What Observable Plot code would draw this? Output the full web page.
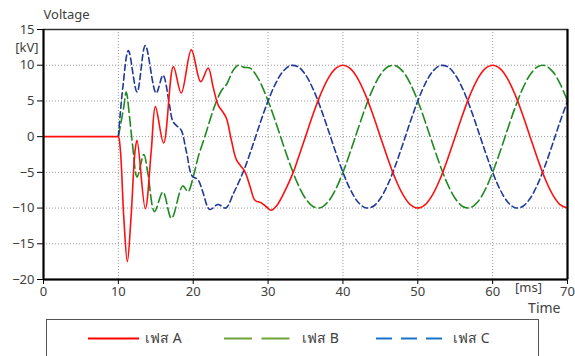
<!DOCTYPE html>
<html>
<head>
<meta charset="utf-8">
<script src="https://cdn.jsdelivr.net/npm/d3@7"></script>
<script src="https://cdn.jsdelivr.net/npm/@observablehq/plot@0.6"></script>
<style>
  html, body { margin: 0; padding: 0; background: #fff; }
  #wrap { position: relative; width: 575px; height: 356px; overflow: hidden; font-family: "Noto Sans", "DejaVu Sans", sans-serif; }
  #legend { position: absolute; left: 46px; top: 319px; width: 493px; height: 50px; border: 1px solid #555; box-sizing: border-box; background: #fff; }
</style>
</head>
<body>
<div id="wrap"><div id="chart"></div><div id="legend"></div></div>
<script>
// ---- data ----
const seriesNames = ["เฟส A", "เฟส B", "เฟส C"];
const xTicks = [0, 10, 20, 30, 40, 50, 60, 70];
const yTicks = [-20, -15, -10, -5, 0, 5, 10, 15];

const tA = [0, 5, 9.8, 10, 10.27, 10.72, 11.2, 11.7, 12.24, 12.5, 13.6, 14.4, 14.95, 16.05, 17.35, 18.4, 19.75, 21.0, 22.0, 22.67, 23.34, 24.0, 24.46, 25.1, 25.8, 26.9, 27.6, 28.25, 29.15, 29.8, 30.4, 31.2, 32.3, 33.4,
  34, 35, 36, 37, 38, 39, 40, 41, 42, 43, 44, 45, 46, 47, 48, 49, 50, 51, 52, 53, 54, 55, 56, 57, 58, 59, 60, 61, 62, 63, 64, 65, 66, 67, 68, 69, 70];
const vA = [0, 0, 0, 0, -1.9, -11.2, -17.5, -11.2, -1.9, -0.5, -10.1, -1.9, 4.2, -0.9, 9.8, 6.1, 12.15, 7.7, 9.6, 6.9, 4.4, 3.4, 2.5, -0.5, -3.3, -4.9, -7.0, -8.9, -9.3, -9.85, -10.3, -9.6, -7.5, -4.9,
  -3.09, 0, 3.09, 5.88, 8.09, 9.51, 10, 9.51, 8.09, 5.88, 3.09, 0, -3.09, -5.88, -8.09, -9.51, -10, -9.51, -8.09, -5.88, -3.09, 0, 3.09, 5.88, 8.09, 9.51, 10, 9.51, 8.09, 5.88, 3.09, 0, -3.09, -5.88, -8.09, -9.51, -10];

const tB = [10, 10.7, 11.05, 11.5, 11.9, 12.5, 13.4, 13.95, 14.83, 15.96, 17.1, 18.6, 19.3, 20.0, 20.65, 21.55, 22.9, 23.8, 24.45, 25.35, 26.0, 26.8, 27.6, 28.7, 30,
  31, 32, 33, 34, 35, 36, 37, 38, 39, 40, 41, 42, 43, 44, 45, 46, 47, 48, 49, 50, 51, 52, 53, 54, 55, 56, 57, 58, 59, 60, 61, 62, 63, 64, 65, 66, 67, 68, 69, 70];
const vB = [0, 4.0, 6.25, 2.7, -1.2, -5.65, -2.5, -5.2, -10.5, -7.75, -11.45, -6.9, -7.7, -5.65, -2.9, 0, 4.4, 6.5, 7.3, 9.3, 10.0, 9.7, 9.6, 8.1, 5.0,
  2.08, -1.05, -4.07, -6.69, -8.66, -9.78, -9.95, -9.14, -7.43, -5.0, -2.08, 1.05, 4.07, 6.69, 8.66, 9.78, 9.95, 9.14, 7.43, 5.0,
  2.08, -1.05, -4.07, -6.69, -8.66, -9.78, -9.95, -9.14, -7.43, -5.0, -2.08, 1.05, 4.07, 6.69, 8.66, 9.78, 9.95, 9.14, 7.43, 5.0];

const tC = [10, 10.6, 11.34, 12.5, 13.6, 15.05, 15.96, 16.85, 17.3, 17.97, 18.4, 19.1, 19.85, 20.65, 21.3, 22.2, 23.3, 24.35, 25.35, 26.2, 27,
  28, 29, 30, 31, 32, 33, 34, 35, 36, 37, 38, 39, 40, 41, 42, 43, 44, 45, 46, 47, 48, 49, 50, 51, 52, 53, 54, 55, 56, 57, 58, 59, 60, 61, 62, 63, 64, 65, 66, 67, 68, 69, 70];
const vC = [0, 6.9, 12.05, 6.25, 12.75, 6.1, 8.6, 4.3, 2.1, 1.35, 0.9, -2.15, -5.5, -6.05, -7.8, -10.2, -9.5, -10.0, -8.0, -6.1, -4.07,
  -1.05, 2.08, 5.0, 7.43, 9.14, 9.95, 9.78, 8.66, 6.69, 4.07, 1.05, -2.08, -5.0, -7.43, -9.14, -9.95, -9.78, -8.66, -6.69, -4.07,
  -1.05, 2.08, 5.0, 7.43, 9.14, 9.95, 9.78, 8.66, 6.69, 4.07, 1.05, -2.08, -5.0, -7.43, -9.14, -9.95, -9.78, -8.66, -6.69, -4.07, -1.05, 2.08, 5.0];

// ---- build tables ----
const rows = (ts, vs) => ts.map((t, i) => ({t, v: vs[i]}));
const dataA = rows(tA, vA), dataB = rows(tB, vB), dataC = rows(tC, vC);

const font = '"Noto Sans", "DejaVu Sans", sans-serif';
const grid = {stroke: "#9a9a9a", strokeOpacity: 1, strokeDasharray: "1,2", strokeWidth: 1};

const chart = Plot.plot({
  width: 575, height: 318,
  marginLeft: 43, marginRight: 8, marginTop: 29, marginBottom: 39,
  style: {fontFamily: font, fontSize: "13px", color: "#333", background: "#fff", overflow: "visible"},
  x: {domain: [0, 70]},
  y: {domain: [-20, 15]},
  marks: [
    Plot.gridX(xTicks.slice(1, -1), grid),
    Plot.gridY(yTicks.slice(1, -1), grid),
    Plot.axisX(xTicks, {tickSize: 5, tickPadding: 2, label: null, fontSize: 13, fill: "#404040", stroke: "#000"}),
    Plot.axisY(yTicks, {tickSize: 6, tickPadding: 3, label: null, fontSize: 13, fill: "#404040", stroke: "#000"}),
    Plot.line(dataB, {x: "t", y: "v", stroke: "#1f8a1f", strokeWidth: 1.6, strokeDasharray: "10,4", curve: "catmull-rom"}),
    Plot.line(dataC, {x: "t", y: "v", stroke: "#1f3a9a", strokeWidth: 1.6, strokeDasharray: "6,3.5", curve: "catmull-rom"}),
    Plot.line(dataA, {x: "t", y: "v", stroke: "#ff1010", strokeWidth: 1.6, curve: "catmull-rom"}),
    Plot.frame({stroke: "#333", strokeWidth: 1.5}),
    Plot.ruleX([0, 70], {stroke: "#000", strokeWidth: 2}),
    Plot.ruleY([-20], {stroke: "#000", strokeWidth: 2}),
    Plot.text(["Voltage"], {frameAnchor: "top-left", dx: 0, dy: -14.5, textAnchor: "start", lineAnchor: "middle", fill: "#404040", fontSize: 13}),
    Plot.text(["[kV]"], {frameAnchor: "top-left", dx: -5, dy: 18.5, textAnchor: "end", lineAnchor: "middle", fill: "#404040", fontSize: 13}),
    Plot.text(["[ms]"], {frameAnchor: "bottom-right", dx: -39, dy: 8.5, textAnchor: "middle", lineAnchor: "middle", fill: "#404040", fontSize: 13}),
    Plot.text(["Time"], {frameAnchor: "bottom-right", dx: -7, dy: 29, textAnchor: "end", lineAnchor: "middle", fill: "#404040", fontSize: 14})
  ]
});
document.getElementById("chart").appendChild(chart);

// ---- legend ----
const legendItems = [
  {name: seriesNames[0], color: "#ff0000", dash: null, x1: 41, x2: 92, tx: 98},
  {name: seriesNames[1], color: "#70a33a", dash: "28,9.5", x1: 177, x2: 243, tx: 255},
  {name: seriesNames[2], color: "#1874c8", dash: "16,9", x1: 329, x2: 395, tx: 406}
];
const lg = d3.select("#legend").append("svg").attr("width", 493).attr("height", 50)
  .style("font-family", font).style("font-size", "14px");
for (const it of legendItems) {
  lg.append("line").attr("x1", it.x1).attr("x2", it.x2).attr("y1", 18.5).attr("y2", 18.5)
    .attr("stroke", it.color).attr("stroke-width", 2).attr("stroke-dasharray", it.dash);
  lg.append("text").attr("x", it.tx).attr("y", 18.5).attr("dy", "0.35em").attr("fill", "#404040").text(it.name);
}
</script>
</body>
</html>
